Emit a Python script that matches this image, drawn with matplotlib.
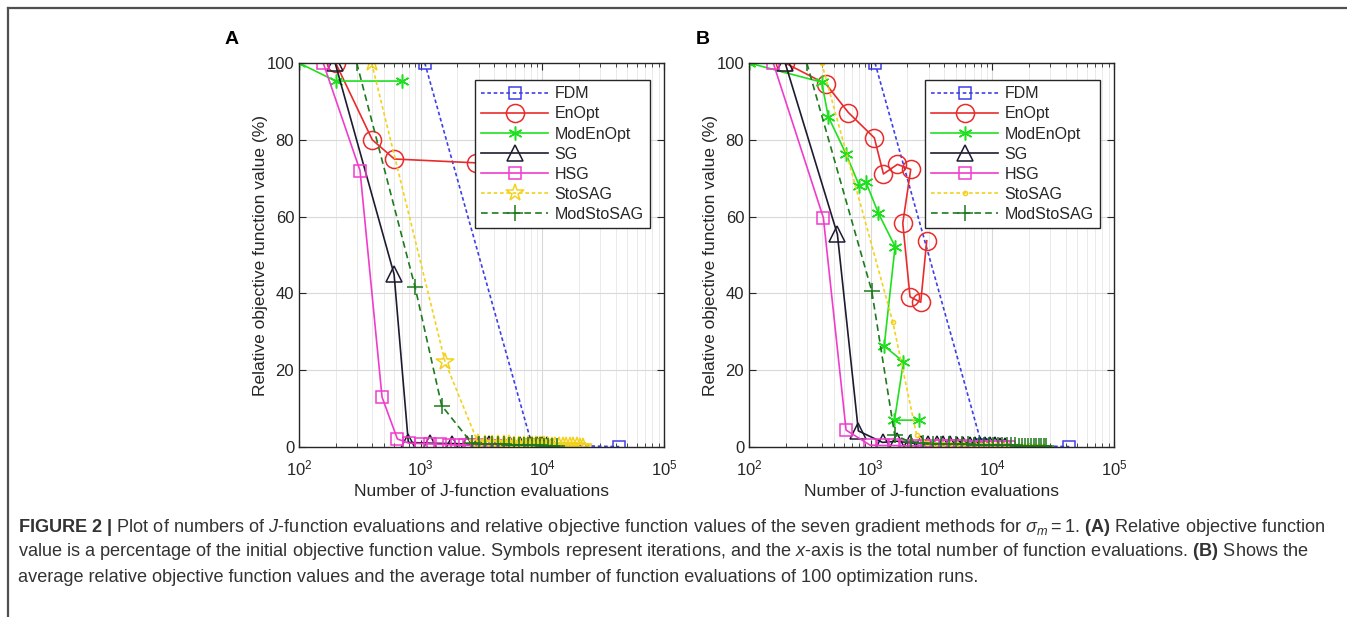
import matplotlib
matplotlib.use("Agg")
import matplotlib.pyplot as plt
from matplotlib.lines import Line2D

# ---- method names (legend order) ----
methods = ["FDM", "EnOpt", "ModEnOpt", "SG", "HSG", "StoSAG", "ModStoSAG"]

# ---- panel A: single run ----
fdm_a_x = [1080, 8200, 42800]
fdm_a_y = [100, 0.6, 0.1]

enopt_a_x = [200, 400, 607, 2830]
enopt_a_y = [100, 80, 75, 74]

modenopt_a_x = [100, 200, 702]
modenopt_a_y = [100, 95.3, 95.3]

sg_a_x = [198, 604, 791, 1192, 1798, 2388, 2950, 3640, 4350, 5420, 6550,
          7910, 8970, 9860, 10840, 11920]
sg_a_y = [100, 45, 1.2, 1.0, 0.9, 0.8, 0.7, 0.7, 0.6, 0.6, 0.5,
          0.5, 0.4, 0.4, 0.4, 0.3]

hsg_a_x = [158, 317, 481, 643, 801, 1000, 1200, 1443, 1700, 2000, 2300,
           2600, 2950, 3300, 3700, 4100, 4600, 5100]
hsg_a_y = [100, 72, 13, 2.1, 1.0, 0.9, 0.8, 0.7, 0.6, 0.5, 0.5,
           0.4, 0.4, 0.3, 0.3, 0.3, 0.2, 0.2]

stosag_a_x = [395, 1585, 2970, 3400, 3850, 4300, 4800, 5300, 5850, 6400,
              7000, 7600, 8250, 8900, 9600, 10300, 11100, 11900, 12800,
              13700, 14700, 15700, 16800, 17900, 19100, 20300, 21700]
stosag_a_y = [100, 22.2, 1.0, 0.9, 0.8, 0.8, 0.7, 0.7, 0.6, 0.6,
              0.5, 0.5, 0.5, 0.4, 0.4, 0.4, 0.3, 0.3, 0.3,
              0.3, 0.2, 0.2, 0.2, 0.2, 0.2, 0.1, 0.1]

modstosag_a_x = [298, 898, 1486, 2626, 3000, 3400, 3850, 4300, 4800, 5300,
                 5850, 6400, 7000, 7600, 8250, 8900, 9600, 10300, 11100,
                 11900, 13100]
modstosag_a_y = [100, 41.7, 10.8, 1.0, 0.9, 0.8, 0.8, 0.7, 0.7, 0.6,
                 0.6, 0.5, 0.5, 0.5, 0.4, 0.4, 0.4, 0.3, 0.3,
                 0.3, 0.3]

# ---- panel B: averages over 100 runs ----
fdm_b_x = [1084, 8170, 42800]
fdm_b_y = [100, 0.6, 0.1]

enopt_b_x = [198, 429, 655, 1071, 1271, 1656, 2132, 1833, 2103, 2576, 2884]
enopt_b_y = [100, 94.5, 87.1, 80.5, 71.1, 73.6, 72.3, 58.3, 39.1, 37.7, 53.7]

modenopt_b_x = [100, 395, 448, 627, 806, 915, 1155, 1585, 1290, 1858, 1567, 2496]
modenopt_b_y = [100, 95, 86, 76.3, 68, 68.9, 60.9, 52.2, 26.3, 22.2, 7.0, 7.0]

sg_b_x = [198, 532, 791, 1250, 1656, 2103, 2576, 2970, 3480, 3950, 4480,
          5090, 5770, 6550, 7200, 7910, 8690, 9550, 10490, 11530, 12700]
sg_b_y = [100, 55.4, 4.2, 1.2, 1.5, 1.0, 0.9, 0.8, 0.8, 0.7, 0.7,
          0.6, 0.6, 0.5, 0.5, 0.5, 0.4, 0.4, 0.4, 0.3, 0.3]

hsg_b_x = [158, 408, 627, 986, 1250, 1550, 1900, 2300, 2750, 3250, 3800,
           4400, 5050, 5750, 6500, 7300, 8200, 9100, 10100, 11200, 12400, 13700]
hsg_b_y = [100, 59.7, 4.4, 0.5, 0.4, 0.4, 0.3, 0.3, 0.3, 0.2, 0.2,
           0.2, 0.2, 0.2, 0.1, 0.1, 0.1, 0.1, 0.1, 0.1, 0.1, 0.1]

stosag_b_x = [395, 1517, 2385, 2900, 3400, 3950, 4500, 5100, 5750, 6450,
              7200, 8000, 8900, 9800, 10800, 11900, 13000, 14200, 15500,
              16800, 18200, 19700, 21300, 23000, 24700, 26200]
stosag_b_y = [100, 32.6, 3.1, 1.0, 0.9, 0.8, 0.8, 0.7, 0.7, 0.6,
              0.6, 0.5, 0.5, 0.5, 0.4, 0.4, 0.4, 0.3, 0.3,
              0.3, 0.3, 0.2, 0.2, 0.2, 0.2, 0.2]

modstosag_b_x = [298, 1018, 1574, 2150, 2700, 3250, 3800, 4400, 5000, 5650,
                 6300, 7000, 7700, 8500, 9300, 10200, 11100, 12100, 13100,
                 14200, 15300, 16400, 17500, 18600, 19700, 20800, 21900,
                 23000, 24100, 25200, 26300, 27400]
modstosag_b_y = [100, 40.7, 3.1, 1.2, 1.0, 0.9, 0.9, 0.8, 0.8, 0.7,
                 0.7, 0.6, 0.6, 0.6, 0.5, 0.5, 0.5, 0.4, 0.4,
                 0.4, 0.4, 0.3, 0.3, 0.3, 0.3, 0.3, 0.2,
                 0.2, 0.2, 0.2, 0.2, 0.2]

# ---- line styles for each method ----
styles = {
    "FDM": dict(color="#3f3fe6", ls=(0, (2.2, 1.6)), marker="s", ms=9, mfc="none"),
    "EnOpt": dict(color="#ea2b2b", ls="-", marker="o", ms=13, mfc="none"),
    "ModEnOpt": dict(color="#1fe01f", ls="-", marker=(6, 2, 0), ms=10),
    "SG": dict(color="#1c1c30", ls="-", marker="^", ms=12, mfc="none"),
    "HSG": dict(color="#f03ccb", ls="-", marker="s", ms=9, mfc="none"),
    "StoSAG": dict(color="#f2d21e", ls=(0, (2.2, 1.6)), marker="*", ms=13, mfc="none"),
    "ModStoSAG": dict(color="#1d7a1d", ls=(0, (4, 2.5)), marker="+", ms=12),
}

plt.rcParams["font.family"] = ["Liberation Sans", "DejaVu Sans"]
plt.rcParams["mathtext.fontset"] = "custom"
plt.rcParams["mathtext.rm"] = "Liberation Sans"
plt.rcParams["mathtext.it"] = "Liberation Sans:italic"
plt.rcParams["mathtext.bf"] = "Liberation Sans:bold"

TEXT = "#262626"


def draw_panel(ax, series, star_override=None):
    for name, (xs, ys) in zip(methods, series):
        st = dict(styles[name])
        if star_override and name in star_override:
            st.update(star_override[name])
        ax.plot(xs, ys, lw=1.2, mew=1.1, label=name, **st)

    ax.set_xscale("log")
    ax.set_xlim(1e2, 1e5)
    ax.set_ylim(0, 100)
    ax.set_yticks([0, 20, 40, 60, 80, 100])

    # MATLAB-like box with inward ticks and a light grid
    ax.grid(True, which="major", color="#d9d9d9", lw=0.8)
    ax.grid(True, which="minor", axis="x", color="#e6e6e6", lw=0.6)
    ax.set_axisbelow(True)
    ax.tick_params(which="both", direction="in", top=True, right=True,
                   labelsize=12, colors=TEXT)
    ax.tick_params(which="major", length=5)
    ax.tick_params(which="minor", length=3)
    ax.tick_params(axis="x", which="major", pad=8)
    for sp in ax.spines.values():
        sp.set_color(TEXT)
        sp.set_linewidth(1.0)

    ax.set_xlabel("Number of J-function evaluations", fontsize=12.5, color=TEXT, labelpad=4)
    ax.set_ylabel("Relative objective function value (%)", fontsize=12.5, color=TEXT, labelpad=-1)

    leg = ax.legend(loc="upper right", bbox_to_anchor=(0.962, 0.956),
                    fontsize=11.5, fancybox=False, framealpha=1,
                    edgecolor=TEXT, handlelength=4.2, handletextpad=0.4,
                    labelspacing=0.32, borderpad=0.4, borderaxespad=0)
    leg.get_frame().set_linewidth(1.0)
    for t in leg.get_texts():
        t.set_color(TEXT)


def main():
    fig = plt.figure(figsize=(13.47, 6.17), dpi=100)

    ax_a = fig.add_axes([0.2220, 0.2755, 0.2710, 0.6224])
    ax_b = fig.add_axes([0.5561, 0.2755, 0.2710, 0.6224])

    draw_panel(ax_a, [(fdm_a_x, fdm_a_y), (enopt_a_x, enopt_a_y),
                      (modenopt_a_x, modenopt_a_y), (sg_a_x, sg_a_y),
                      (hsg_a_x, hsg_a_y), (stosag_a_x, stosag_a_y),
                      (modstosag_a_x, modstosag_a_y)])
    # StoSAG is drawn with small dots in panel B
    draw_panel(ax_b, [(fdm_b_x, fdm_b_y), (enopt_b_x, enopt_b_y),
                      (modenopt_b_x, modenopt_b_y), (sg_b_x, sg_b_y),
                      (hsg_b_x, hsg_b_y), (stosag_b_x, stosag_b_y),
                      (modstosag_b_x, modstosag_b_y)],
               star_override={"StoSAG": dict(marker=".", ms=6)})

    # panel letters
    fig.text(232 / 1347, 1 - 40 / 617, "A", fontsize=14, fontweight="bold",
             ha="center", va="center", color="black")
    fig.text(703 / 1347, 1 - 40 / 617, "B", fontsize=14, fontweight="bold",
             ha="center", va="center", color="black")

    # open frame on the left and top
    frame_col = "#505050"
    fig.add_artist(Line2D([8 / 1347, 8 / 1347], [0, 1 - 8 / 617],
                          color=frame_col, lw=1.6, transform=fig.transFigure))
    fig.add_artist(Line2D([8 / 1347, 1], [1 - 8 / 617, 1 - 8 / 617],
                          color=frame_col, lw=1.6, transform=fig.transFigure))

    # caption
    cap = [
        r"$\mathbf{FIGURE\ 2\ |}$ Plot of numbers of $\mathit{J}$-function evaluations and "
        r"relative objective function values of the seven gradient methods for "
        r"$\sigma_m = 1$. $\mathbf{(A)}$ Relative objective function",
        r"value is a percentage of the initial objective function value. Symbols represent "
        r"iterations, and the $\mathit{x}$-axis is the total number of function evaluations. "
        r"$\mathbf{(B)}$ Shows the",
        "average relative objective function values and the average total number of "
        "function evaluations of 100 optimization runs.",
    ]
    for i, line in enumerate(cap):
        fig.text(18 / 1347, 1 - (527 + 25 * i) / 617, line, fontsize=13.1,
                 color="#333333", ha="left", va="center")

    fig.savefig("out.png", dpi=100)


if __name__ == "__main__":
    main()
